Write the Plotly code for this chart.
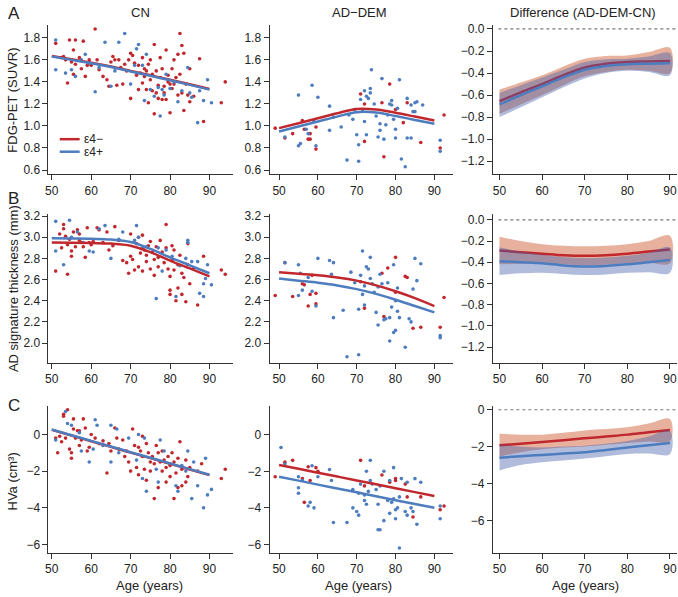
import plotly.graph_objects as go

W, H = 678, 597

# ---------------- DATA ----------------
ages_tick = [50, 60, 70, 80, 90]
fit_age = [50, 55, 60, 65, 70, 75, 80, 85, 90]

# CN, FDG-PET (age, SUVR)
cn_fdg_neg = [(51, 1.75), (52.5, 1.62), (53, 1.63), (53.5, 1.6), (54, 1.39), (54.5, 1.78), (55, 1.58), (55.5, 1.69),
              (55.5, 1.47), (56, 1.78), (56, 1.56), (57, 1.62), (57.5, 1.52), (58, 1.77), (58.5, 1.45), (59, 1.55),
              (59.5, 1.6), (60, 1.55), (61, 1.88), (61.5, 1.6), (62, 1.51), (63, 1.45), (64, 1.42), (64.5, 1.36),
              (65, 1.58), (65.5, 1.63), (66, 1.6), (66.5, 1.37), (67, 1.6), (67.5, 1.53), (68, 1.38), (68.5, 1.56),
              (69, 1.5), (69.5, 1.6), (70, 1.66), (70, 1.25), (70.5, 1.64), (71, 1.57), (71.5, 1.46), (72, 1.33),
              (72, 1.55), (72.5, 1.48), (73, 1.62), (73, 1.39), (73.5, 1.52), (73.5, 1.45), (74, 1.5), (74, 1.33),
              (74.5, 1.21), (74.5, 1.56), (75, 1.42), (75, 1.6), (75.5, 1.47), (75.5, 1.32), (76, 1.74), (76, 1.11),
              (76.5, 1.3), (76.5, 1.5), (77, 1.37), (77, 1.25), (77.5, 1.62), (77.5, 1.44), (78, 1.24), (78, 1.52),
              (78.5, 1.36), (78.5, 1.3), (79, 1.69), (79, 1.24), (79.5, 1.46), (79.5, 1.4), (80, 1.12), (80, 1.38),
              (80.5, 1.52), (80.5, 1.34), (81, 1.38), (81, 1.6), (81.5, 1.44), (82, 1.65), (82, 1.28), (82.5, 1.84),
              (82.5, 1.47), (83, 1.73), (83, 1.3), (83.5, 1.14), (83.5, 1.66), (84, 1.38), (84.5, 1.28), (85, 1.52),
              (85, 1.22), (86, 1.27), (87.5, 1.61), (88.5, 1.04), (93, 1.21), (94, 1.4)]
cn_fdg_pos = [(51, 1.78), (51, 1.51), (53.5, 1.48), (55, 1.51), (56, 1.45), (57.5, 1.6), (58.5, 1.65), (59.5, 1.57),
              (61, 1.31), (62, 1.53), (63.5, 1.76), (65, 1.36), (66, 1.5), (67, 1.76), (68.5, 1.84), (70, 1.38),
              (71, 1.55), (71.5, 1.7), (72, 1.74), (73, 1.55), (73.5, 1.23), (74, 1.65), (75, 1.33), (76, 1.27),
              (77, 1.35), (77.5, 1.09), (78, 1.33), (78.5, 1.28), (79, 1.47), (80, 1.34), (81, 1.4), (82, 1.22),
              (83, 1.32), (84.5, 1.53), (85, 1.3), (85.5, 1.26), (87, 1.03), (87.5, 1.32), (88.5, 1.23), (89.5, 1.42),
              (90.5, 1.21)]
cn_fdg_fit_neg = [1.635, 1.605, 1.575, 1.54, 1.50, 1.46, 1.42, 1.378, 1.335]
cn_fdg_fit_pos = [1.63, 1.60, 1.57, 1.535, 1.495, 1.455, 1.415, 1.373, 1.33]

# AD-DEM, FDG-PET
ad_fdg_neg = [(49, 0.98), (51.5, 0.89), (53.5, 0.93), (56, 1.05), (56.5, 0.97), (57.5, 0.88), (58, 0.93), (58, 0.88),
              (59.5, 0.79), (59.5, 0.99), (71, 1.29), (72, 1.2), (72, 0.86), (76.5, 1.21), (77, 0.72), (78.5, 1.38),
              (80, 1.15), (82, 1.03), (83, 1.21), (86.5, 0.85), (91.5, 0.8), (92.5, 1.1)]
ad_fdg_pos = [(51.5, 0.9), (55, 1.28), (55, 0.82), (55.5, 0.84), (57, 0.97), (57.5, 0.93), (58.5, 1.37), (59, 1.04),
              (59.5, 0.82), (60, 1.26), (63, 1.18), (63, 0.96), (64, 1.08), (66, 0.99), (67.5, 0.69), (68, 1.1),
              (69, 1.06), (69.5, 1.15), (70, 0.92), (70.5, 0.68), (70.5, 0.83), (71, 1.24), (71.5, 1.15), (72, 1.32),
              (72, 1.04), (72.5, 1.27), (72.5, 0.92), (73, 1.25), (73.5, 1.3), (73.5, 1.34), (73.8, 1.51), (74.5, 1.2),
              (75, 1.09), (75.5, 0.9), (76, 1.02), (76, 0.96), (76.5, 1.43), (77, 0.88), (77.5, 1.01), (78, 1.1),
              (78.5, 1.2), (79, 1.19), (79, 1.23), (79.5, 1.06), (80, 0.97), (80, 0.89), (80.5, 1.16), (81, 1.42),
              (81.5, 0.7), (82.5, 0.63), (83, 1.25), (83, 0.89), (84, 0.89), (84, 1.19), (84.5, 1.13), (85, 1.21),
              (85, 1.13), (85.5, 1.22), (87, 1.19), (91.5, 0.87), (91.5, 0.77)]
ad_fdg_fit_neg = [0.98, 1.025, 1.07, 1.115, 1.155, 1.15, 1.12, 1.085, 1.05]
ad_fdg_fit_pos = [0.95, 0.995, 1.04, 1.085, 1.125, 1.122, 1.09, 1.055, 1.02]

# Difference, FDG-PET
df_fdg_neg = [-0.655, -0.575, -0.50, -0.42, -0.35, -0.315, -0.30, -0.295, -0.29]
df_fdg_neg_hi = [-0.55, -0.485, -0.42, -0.34, -0.27, -0.245, -0.24, -0.21, -0.17]
df_fdg_neg_lo = [-0.77, -0.685, -0.60, -0.51, -0.43, -0.39, -0.37, -0.38, -0.40]
df_fdg_pos = [-0.685, -0.60, -0.52, -0.44, -0.37, -0.335, -0.32, -0.315, -0.31]
df_fdg_pos_hi = [-0.58, -0.51, -0.44, -0.37, -0.30, -0.275, -0.27, -0.25, -0.22]
df_fdg_pos_lo = [-0.80, -0.71, -0.62, -0.53, -0.45, -0.40, -0.38, -0.39, -0.42]

# CN, AD signature thickness (mm)
cn_th_neg = [(51, 2.68), (52, 3.03), (52.5, 2.9), (53, 3.12), (53, 3.08), (53.5, 3.01), (54, 2.65), (54, 2.93),
             (54.5, 2.98), (55, 2.87), (55, 2.82), (55.5, 3.05), (56, 2.91), (56.5, 3.07), (57, 2.97), (57, 3.03),
             (57.5, 2.95), (58, 2.91), (58.5, 2.81), (59, 3.09), (59.5, 2.95), (60, 2.93), (60.5, 2.96), (61.5, 3.09),
             (62, 3.07), (63, 2.95), (64, 3.05), (64.5, 2.88), (65.5, 2.92), (66, 3.1), (67, 2.97), (68, 2.78),
             (69, 2.76), (69.5, 2.66), (70, 3.03), (70, 2.82), (70.5, 2.79), (71, 2.69), (71.5, 2.94), (72, 2.72),
             (72, 3.0), (72.5, 2.85), (73, 2.68), (73, 3.02), (73.5, 2.88), (74, 2.83), (74, 2.77), (74.5, 2.92),
             (75, 2.7), (75, 2.96), (75.5, 2.86), (76, 2.79), (76, 2.64), (76.5, 2.91), (77, 2.81), (77, 2.72),
             (77.5, 2.97), (78, 2.86), (78.5, 2.76), (79, 3.12), (79, 2.9), (79.5, 2.7), (80, 2.5), (80, 2.46),
             (80, 2.63), (80.5, 2.92), (80.5, 2.78), (81, 2.69), (81, 2.88), (81.5, 2.4), (82, 2.52), (82, 2.74),
             (82.5, 2.83), (83, 2.46), (83, 2.66), (83.5, 2.62), (84, 2.39), (84.5, 2.94), (84.5, 2.74), (85, 2.56),
             (86, 2.71), (87, 2.36), (88.5, 2.82), (93, 2.69), (94, 2.65)]
cn_th_pos = [(51, 3.15), (51, 2.87), (53, 2.74), (54.5, 3.16), (55, 3.0), (56.5, 3.05), (58, 2.95), (59.5, 2.87),
             (60.5, 2.86), (62, 3.08), (63.5, 3.11), (65, 2.8), (67, 2.98), (68, 3.05), (71, 2.97), (71.5, 3.11),
             (72, 3.0), (73, 2.9), (74, 2.91), (76.5, 2.42), (77, 2.9), (78, 2.68), (79, 2.88), (80.5, 2.82),
             (81.5, 2.44), (82.5, 2.73), (84, 2.8), (84.5, 2.97), (84.5, 2.95), (85.5, 2.77), (87, 2.77), (87.5, 2.47),
             (88.5, 2.44), (88.5, 2.56), (89, 2.61), (89.5, 2.74), (90.5, 2.55)]
cn_th_fit_neg = [2.95, 2.948, 2.945, 2.94, 2.92, 2.86, 2.78, 2.705, 2.63]
cn_th_fit_pos = [2.99, 2.988, 2.985, 2.978, 2.955, 2.89, 2.81, 2.735, 2.66]

# AD-DEM, thickness
ad_th_neg = [(49, 2.45), (51.5, 2.76), (53.5, 2.44), (56, 2.56), (56.5, 2.55), (57.5, 2.35), (58, 2.46), (58.5, 2.64),
             (59.5, 2.47), (59.5, 2.37), (71, 2.58), (72, 2.33), (76.5, 2.66), (77, 2.25), (78, 2.71), (80, 2.81),
             (80, 2.48), (82.5, 2.63), (83, 2.62), (84.5, 2.14), (86.5, 2.15), (91.5, 2.15), (92.5, 2.43)]
ad_th_pos = [(51.5, 2.76), (55, 2.74), (55, 2.45), (55.5, 2.66), (56, 2.5), (57.5, 2.62), (58.5, 2.49), (59.5, 2.35),
             (60, 2.8), (63, 2.78), (63.5, 2.65), (64, 2.76), (64, 2.24), (66.5, 2.31), (67.5, 1.87), (68.5, 2.67),
             (69.5, 2.57), (70.5, 2.32), (70.5, 1.89), (71, 2.64), (71.5, 2.87), (71.5, 2.46), (72, 2.54), (72, 2.36),
             (72.5, 2.72), (73, 2.7), (73.5, 2.81), (73.5, 2.61), (74, 2.56), (74.5, 2.48), (75, 2.29), (75.5, 2.17),
             (75.5, 2.53), (76, 2.65), (76.5, 2.56), (77, 2.22), (77.5, 2.23), (78, 2.57), (78.5, 2.24), (78.5, 2.02),
             (79, 2.34), (79.5, 2.74), (79.5, 2.1), (80, 2.4), (80, 2.12), (80.5, 2.3), (80.5, 2.52), (81, 2.24),
             (82.5, 1.96), (83.5, 2.23), (84, 2.2), (84.5, 2.51), (85, 2.8), (85.5, 2.59), (86.5, 2.75), (91.5, 2.07),
             (91.5, 2.05)]
ad_th_fit_neg = [2.67, 2.655, 2.64, 2.62, 2.59, 2.545, 2.49, 2.425, 2.35]
ad_th_fit_pos = [2.61, 2.59, 2.57, 2.545, 2.51, 2.465, 2.41, 2.35, 2.29]

# Difference, thickness
df_th_neg = [-0.29, -0.305, -0.32, -0.335, -0.34, -0.335, -0.32, -0.30, -0.28]
df_th_neg_hi = [-0.16, -0.20, -0.23, -0.245, -0.25, -0.245, -0.23, -0.20, -0.15]
df_th_neg_lo = [-0.42, -0.415, -0.41, -0.42, -0.43, -0.425, -0.41, -0.405, -0.41]
df_th_pos = [-0.39, -0.40, -0.41, -0.43, -0.44, -0.435, -0.42, -0.40, -0.38]
df_th_pos_hi = [-0.26, -0.30, -0.33, -0.35, -0.36, -0.355, -0.34, -0.31, -0.26]
df_th_pos_lo = [-0.52, -0.505, -0.50, -0.51, -0.52, -0.515, -0.50, -0.495, -0.50]

# CN, HVa (cm3)
cn_hv_neg = [(51, -0.2), (51.5, -1.0), (52, -0.1), (52.5, -0.4), (53, 1.1), (53, 1.0), (53.5, -0.2), (54, 1.35),
             (54.5, -0.8), (55, -1.3), (55, -1.0), (55.5, 0.3), (55.5, 0.85), (56, -0.2), (56.5, 0.2), (57, -0.6),
             (57, 0.2), (57.5, -0.3), (58, 0.85), (58.5, 0.35), (59, -0.9), (59.5, -0.7), (60, 0.0), (61, -0.2),
             (62, -0.5), (63, -0.35), (64, -2.1), (64.5, -0.5), (65, -0.9), (66, 0.35), (66.5, -0.2), (67, -0.8),
             (68, -0.3), (68.5, -1.2), (69, -0.9), (69.5, -1.5), (70, -2.0), (70.5, 0.3), (71, -0.6), (71.5, -1.8),
             (72, -0.7), (72, -2.2), (72.5, -0.9), (73, -0.1), (73, -1.2), (73.5, -1.9), (74, -0.5), (74, -2.5),
             (74.5, -1.0), (75, -1.5), (75, -2.0), (75.5, -1.2), (76, -3.5), (76, -1.6), (76.5, -0.6), (77, -2.9),
             (77, -1.0), (77.5, -1.5), (78, -2.0), (78, -0.9), (78.5, -1.4), (79, -2.6), (79, -1.8), (79.5, -1.2),
             (80, -1.7), (80, -2.3), (80.5, -1.0), (81, -3.5), (81, -1.5), (81.5, -2.1), (82, -1.3), (82, -2.9),
             (82.5, -0.4), (83, -1.9), (83, -2.8), (84, -1.4), (84, -2.6), (84.5, -2.3), (85, -1.8), (87, -2.0),
             (88, -1.6), (93, -2.4), (94, -1.9)]
cn_hv_pos = [(51, -0.3), (53.5, 1.25), (54, 0.6), (55, 0.5), (57, 0.1), (57.5, -0.9), (59.5, -1.5), (60.5, -0.8),
             (61, 0.8), (61.5, 0.5), (63, -0.6), (65, 0.5), (65, -1.5), (66.5, 0.3), (67, -1.0), (69.5, -0.2),
             (71.5, -1.4), (72, 0.0), (73, -2.4), (73.5, -0.2), (74, -3.1), (76.5, -1.9), (77, -2.6), (77.5, -0.3),
             (78.5, -0.9), (80, -1.6), (81.5, -2.8), (82, -3.1), (83, -1.7), (84, -2.0), (84.5, -0.9), (85.5, -3.5),
             (86, -1.5), (87, -2.8), (88.5, -4.0), (89, -1.3), (89.5, -3.3), (90.5, -3.0)]
cn_hv_fit_neg = [0.25, -0.06, -0.37, -0.68, -0.99, -1.29, -1.6, -1.91, -2.22]
cn_hv_fit_pos = [0.27, -0.04, -0.35, -0.66, -0.97, -1.27, -1.58, -1.89, -2.2]

# AD-DEM, HVa
ad_hv_neg = [(49, -2.3), (51.5, -1.5), (53.5, -1.4), (56, -2.4), (56.5, -3.7), (57.5, -1.75), (58, -2.5), (59.5, -1.8),
             (60, -2.0), (71, -1.4), (72, -2.8), (76.5, -2.2), (78.5, -2.6), (80, -2.4), (80, -2.5), (82.5, -2.7),
             (83, -3.4), (84.5, -4.5), (86.5, -3.4), (91.5, -4.1), (92.5, -3.9)]
ad_hv_pos = [(50.5, -0.7), (51.5, -1.6), (55, -2.3), (55, -2.9), (55, -3.2), (56, -2.5), (57.5, -3.9), (58, -3.7),
             (58.5, -1.7), (59, -4.0), (60, -2.3), (63, -1.9), (63.5, -2.5), (64, -4.8), (67.5, -4.8), (69, -3.0),
             (69, -4.0), (70, -4.2), (70.5, -4.4), (70.5, -3.2), (71, -2.7), (72, -3.6), (72, -3.3), (72.5, -2.0),
             (72.5, -3.8), (73, -3.1), (73.5, -2.5), (73.5, -1.4), (74, -2.7), (75, -3.0), (75.5, -5.2), (75.5, -3.8),
             (76, -2.8), (76, -5.2), (77, -4.7), (77, -2.0), (78, -3.6), (78.5, -2.5), (78.5, -4.3), (79, -3.7),
             (79.5, -1.8), (79.5, -3.5), (80, -4.1), (80, -4.6), (80.5, -4.0), (81, -6.2), (81, -3.4), (81.5, -2.4),
             (82.5, -4.2), (83, -2.6), (83, -4.4), (84, -4.0), (84.5, -4.2), (85, -2.4), (85.5, -4.9), (86.5, -2.6),
             (91.5, -3.9), (91.5, -4.6)]
ad_hv_fit_neg = [-1.65, -1.86, -2.08, -2.29, -2.5, -2.71, -2.93, -3.14, -3.35]
ad_hv_fit_pos = [-2.3, -2.51, -2.73, -2.94, -3.15, -3.36, -3.58, -3.79, -4.0]

# Difference, HVa
df_hv_neg = [-1.93, -1.84, -1.75, -1.65, -1.55, -1.45, -1.35, -1.22, -1.1]
df_hv_neg_hi = [-1.3, -1.35, -1.35, -1.25, -1.12, -1.05, -0.95, -0.75, -0.5]
df_hv_neg_lo = [-2.55, -2.3, -2.15, -2.05, -2.0, -1.9, -1.8, -1.72, -1.7]
df_hv_pos = [-2.6, -2.52, -2.45, -2.38, -2.3, -2.18, -2.05, -1.93, -1.8]
df_hv_pos_hi = [-1.9, -2.0, -2.05, -2.0, -1.95, -1.85, -1.7, -1.45, -1.15]
df_hv_pos_lo = [-3.3, -3.0, -2.85, -2.75, -2.65, -2.52, -2.4, -2.38, -2.4]

col_titles = ["CN", "AD\u2212DEM", "Difference (AD-DEM-CN)"]
row_titles = ["FDG-PET (SUVR)", "AD signature thickness (mm)", "HVa (cm\u00b3)"]
row_letters = ["A", "B", "C"]
legend_labels = ["\u03b54\u2212", "\u03b54+"]

# ---------------- STYLE ----------------
RED = "#c0282e"
BLUE = "#4d7dbf"
RED_BAND = "rgba(208,100,60,0.50)"
BLUE_BAND = "rgba(70,95,175,0.42)"
FONT = "Liberation Sans, Arial, sans-serif"
TXT = "#222222"

col_px = [(45.7, 231.0), (267.7, 452.0), (492.0, 677.0)]
row_px = [(20.0, 171.5), (211.7, 362.5), (406.7, 555.0)]
xranges = [[49.17, 95.96], [47.54, 94.8], [48.43, 91.66]]
yranges = [[[0.562, 1.919], [0.562, 1.919], [-1.318, 0.0385]],
           [[1.815, 3.221], [1.815, 3.221], [-1.347, 0.056]],
           [[-6.447, 1.54], [-6.447, 1.56], [-7.75, 0.19]]]
ytickvals = [[[0.6, 0.8, 1.0, 1.2, 1.4, 1.6, 1.8]] * 2 + [[-1.2, -1.0, -0.8, -0.6, -0.4, -0.2, 0.0]],
             [[2.0, 2.2, 2.4, 2.6, 2.8, 3.0, 3.2]] * 2 + [[-1.2, -1.0, -0.8, -0.6, -0.4, -0.2, 0.0]],
             [[-6, -4, -2, 0]] * 3]
yfmt = [".1f", ".1f", "d"]


def px2x(p):
    return p / W


def px2y(p):
    return 1 - p / H


def unzip(pts):
    return [p[0] for p in pts], [p[1] for p in pts]


fig = go.Figure()
layout = dict(width=W, height=H, margin=dict(l=0, r=0, t=0, b=0),
              paper_bgcolor="white", plot_bgcolor="white", showlegend=False,
              font=dict(family=FONT, size=12, color=TXT))

scatter_panels = {
    (0, 0): (cn_fdg_neg, cn_fdg_pos, cn_fdg_fit_neg, cn_fdg_fit_pos),
    (0, 1): (ad_fdg_neg, ad_fdg_pos, ad_fdg_fit_neg, ad_fdg_fit_pos),
    (1, 0): (cn_th_neg, cn_th_pos, cn_th_fit_neg, cn_th_fit_pos),
    (1, 1): (ad_th_neg, ad_th_pos, ad_th_fit_neg, ad_th_fit_pos),
    (2, 0): (cn_hv_neg, cn_hv_pos, cn_hv_fit_neg, cn_hv_fit_pos),
    (2, 1): (ad_hv_neg, ad_hv_pos, ad_hv_fit_neg, ad_hv_fit_pos),
}
diff_panels = {
    0: (df_fdg_neg, df_fdg_neg_hi, df_fdg_neg_lo, df_fdg_pos, df_fdg_pos_hi, df_fdg_pos_lo),
    1: (df_th_neg, df_th_neg_hi, df_th_neg_lo, df_th_pos, df_th_pos_hi, df_th_pos_lo),
    2: (df_hv_neg, df_hv_neg_hi, df_hv_neg_lo, df_hv_pos, df_hv_pos_hi, df_hv_pos_lo),
}

shapes = []
annotations = []

for r in range(3):
    for c in range(3):
        i = r * 3 + c + 1
        xa = "x" if i == 1 else f"x{i}"
        ya = "y" if i == 1 else f"y{i}"
        xkey = "xaxis" if i == 1 else f"xaxis{i}"
        ykey = "yaxis" if i == 1 else f"yaxis{i}"
        layout[xkey] = dict(domain=[px2x(col_px[c][0]), px2x(col_px[c][1])], anchor=ya,
                            range=xranges[c], tickvals=ages_tick, showgrid=False, zeroline=False,
                            showline=True, linecolor="#333333", linewidth=1, ticks="outside",
                            ticklen=5, tickcolor="#333333", tickfont=dict(size=12, color=TXT),
                            ticklabeloverflow="allow", fixedrange=True)
        layout[ykey] = dict(domain=[px2y(row_px[r][1]), px2y(row_px[r][0])], anchor=xa,
                            range=yranges[r][c], tickvals=ytickvals[r][c], tickformat=yfmt[r],
                            showgrid=False, zeroline=False, showline=True, linecolor="#333333",
                            linewidth=1, ticks="outside", ticklen=5, tickcolor="#333333",
                            tickfont=dict(size=12, color=TXT), ticklabeloverflow="allow", fixedrange=True)
        if c < 2:
            neg, pos, fneg, fpos = scatter_panels[(r, c)]
            xn, yn = unzip(neg)
            xp, yp = unzip(pos)
            fig.add_trace(go.Scatter(x=xn, y=yn, mode="markers", xaxis=xa, yaxis=ya,
                                     marker=dict(color=RED, size=3.6), hoverinfo="skip"))
            fig.add_trace(go.Scatter(x=xp, y=yp, mode="markers", xaxis=xa, yaxis=ya,
                                     marker=dict(color=BLUE, size=3.6), hoverinfo="skip"))
            fig.add_trace(go.Scatter(x=fit_age, y=fneg, mode="lines", xaxis=xa, yaxis=ya,
                                     line=dict(color=RED, width=2.5, shape="spline"), hoverinfo="skip"))
            fig.add_trace(go.Scatter(x=fit_age, y=fpos, mode="lines", xaxis=xa, yaxis=ya,
                                     line=dict(color=BLUE, width=2.5, shape="spline"), hoverinfo="skip"))
        else:
            mn, hn, ln, mp, hp, lp = diff_panels[r]
            fig.add_trace(go.Scatter(x=fit_age + fit_age[::-1], y=hn + ln[::-1], fill="toself",
                                     fillcolor=RED_BAND, line=dict(width=0, shape="spline"), mode="lines",
                                     xaxis=xa, yaxis=ya, hoverinfo="skip"))
            fig.add_trace(go.Scatter(x=fit_age, y=mn, mode="lines", xaxis=xa, yaxis=ya,
                                     line=dict(color=RED, width=2.5, shape="spline"), hoverinfo="skip"))
            fig.add_trace(go.Scatter(x=fit_age + fit_age[::-1], y=hp + lp[::-1], fill="toself",
                                     fillcolor=BLUE_BAND, line=dict(width=0, shape="spline"), mode="lines",
                                     xaxis=xa, yaxis=ya, hoverinfo="skip"))
            fig.add_trace(go.Scatter(x=fit_age, y=mp, mode="lines", xaxis=xa, yaxis=ya,
                                     line=dict(color=BLUE, width=2.5, shape="spline"), hoverinfo="skip"))
            shapes.append(dict(type="line", xref=f"{xa} domain", yref=ya, x0=0.03, x1=1, y0=0, y1=0,
                               line=dict(color="#777777", width=1.2, dash="dot")))

# column titles
title_x = [138, 358, 583]
for c in range(3):
    annotations.append(dict(text=col_titles[c], x=px2x(title_x[c]), y=px2y(8), xref="paper", yref="paper",
                            showarrow=False, xanchor="center", yanchor="middle",
                            font=dict(size=13, color=TXT)))
# panel letters
letter_y = [9, 196, 406]
for r in range(3):
    annotations.append(dict(text=row_letters[r], x=px2x(3), y=px2y(letter_y[r]), xref="paper", yref="paper",
                            showarrow=False, xanchor="left", yanchor="middle",
                            font=dict(size=17, color=TXT)))
# y-axis titles
ytitle_y = [96, 287, 483]
for r in range(3):
    annotations.append(dict(text=row_titles[r], x=px2x(10), y=px2y(ytitle_y[r]), xref="paper", yref="paper",
                            showarrow=False, textangle=-90, xanchor="center", yanchor="middle",
                            font=dict(size=13, color=TXT)))
# x-axis titles
xtitle_x = [147, 357, 585]
for c in range(3):
    annotations.append(dict(text="Age (years)", x=px2x(xtitle_x[c]), y=px2y(588), xref="paper", yref="paper",
                            showarrow=False, xanchor="center", yanchor="middle",
                            font=dict(size=13, color=TXT)))
# legend (drawn manually)
leg_y = [136, 148.7]
leg_col = [RED, BLUE]
for k in range(2):
    shapes.append(dict(type="line", xref="paper", yref="paper", x0=px2x(57), x1=px2x(77),
                       y0=px2y(leg_y[k]), y1=px2y(leg_y[k]), line=dict(color=leg_col[k], width=2.5)))
    annotations.append(dict(text=legend_labels[k], x=px2x(79), y=px2y(leg_y[k]), xref="paper", yref="paper",
                            showarrow=False, xanchor="left", yanchor="middle",
                            font=dict(size=12, color=TXT)))

layout["shapes"] = shapes
layout["annotations"] = annotations
layout["hovermode"] = False
fig.update_layout(**layout)
fig.write_html("out.html",
               config={"displayModeBar": False, "staticPlot": True},
               post_script="document.body.style.margin='0';document.body.style.padding='0';"
                           "document.body.style.overflow='hidden';")
